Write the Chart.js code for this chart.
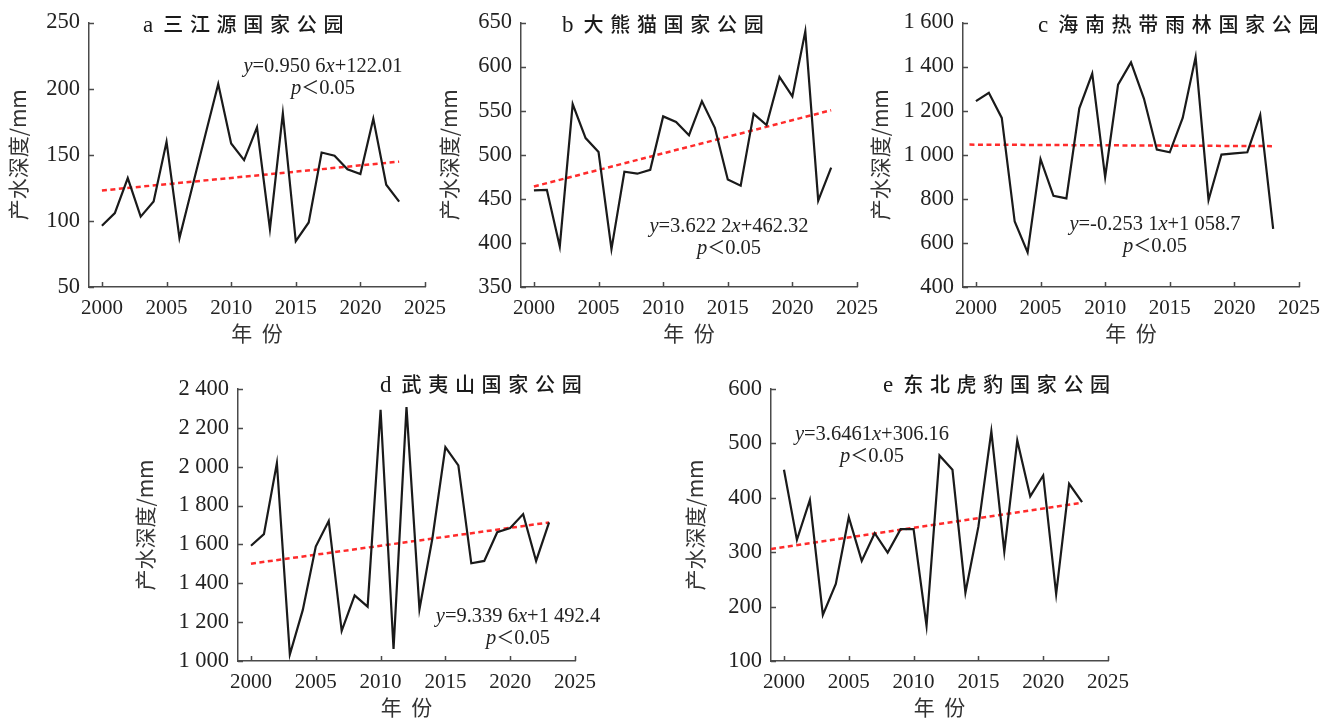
<!DOCTYPE html>
<html>
<head>
<meta charset="utf-8">
<script src="https://cdn.jsdelivr.net/npm/chart.js@4.4.1/dist/chart.umd.min.js"></script>
<style>
  html, body { margin: 0; padding: 0; background: #fff; }
  #page { position: relative; width: 1335px; height: 722px; overflow: hidden; }
  canvas { position: absolute; }
  .ttl { position: absolute; transform: translateY(-50%); white-space: nowrap; color: #1a1a1a; }
  .ttl .lt { font-family: "Liberation Serif", serif; font-size: 23px; }
  .ttl .cn { font-family: "Noto Sans CJK SC", sans-serif; font-size: 20px; font-weight: 500; letter-spacing: 6.7px; margin-left: 10px; }
  .eq { position: absolute; transform: translate(-50%, -50%); white-space: nowrap; color: #222;
        font-family: "Liberation Serif", serif; font-size: 20.5px; }
  .eq i { font-style: italic; }
  .eq .lt { font-family: "Noto Sans CJK SC", sans-serif; font-size: 18px; }
</style>
</head>
<body>
<div id="page"></div>
<script>
// years 2000-2023
const YEARS = [2000, 2001, 2002, 2003, 2004, 2005, 2006, 2007, 2008, 2009, 2010, 2011,
               2012, 2013, 2014, 2015, 2016, 2017, 2018, 2019, 2020, 2021, 2022, 2023]
const X_TICKS = [2000, 2005, 2010, 2015, 2020, 2025]

// a 三江源
const SJY = [96.3, 105.9, 132.4, 103.2, 114.6, 159.8, 87.0, 126, 165, 203.5, 158.5, 145.9,
             170.7, 93.9, 181.2, 84.6, 98.8, 151.7, 149.3, 139.0, 135.4, 177.3, 127.3, 114.6]
const SJY_TREND_X = [2000, 2023]
const SJY_TREND = [123.0, 144.8]
const SJY_TICKS = [50, 100, 150, 200, 250]
const SJY_LABELS = ['50', '100', '150', '200', '250']

// b 大熊猫
const DXM = [459.5, 460.2, 396, 557.4, 518.9, 503, 393, 480.7, 478.5, 482.9, 543.5, 537.2,
             522.2, 560.7, 530.6, 471.9, 464.9, 546.4, 533.6, 588.3, 566.2, 640, 448, 485.5]
const DXM_TREND_X = [2000, 2023]
const DXM_TREND = [464, 550.5]
const DXM_TICKS = [350, 400, 450, 500, 550, 600, 650]
const DXM_LABELS = ['350', '400', '450', '500', '550', '600', '650']

// c 海南热带雨林
const HN = [1243, 1281, 1167, 697, 557, 980, 814, 802, 1211, 1368, 899, 1318,
            1419, 1255, 1023, 1011, 1167, 1443, 795, 1001, 1006, 1011, 1181, 664]
const HN_TREND_X = [1999.5, 2023]
const HN_TREND = [1046, 1039]
const HN_TICKS = [400, 600, 800, 1000, 1200, 1400, 1600]
const HN_LABELS = ['400', '600', '800', '1 000', '1 200', '1 400', '1 600']

// d 武夷山
const WYS = [1593, 1653, 2019, 1033, 1263, 1589, 1721, 1155, 1338, 1280, 2293, 1062,
             2307, 1266, 1632, 2101, 2007, 1503, 1515, 1663, 1684, 1756, 1515, 1713]
const WYS_TREND_X = [2000, 2023]
const WYS_TREND = [1501, 1713]
const WYS_TICKS = [1000, 1200, 1400, 1600, 1800, 2000, 2200, 2400]
const WYS_LABELS = ['1 000', '1 200', '1 400', '1 600', '1 800', '2 000', '2 200', '2 400']

// e 东北虎豹
const DBHB = [451.5, 322.7, 396.3, 184.7, 241.7, 364.4, 284, 335, 299.4, 342.3, 342.3, 165,
              477.9, 451.5, 225.8, 347, 522, 301, 505.5, 402.5, 441, 223, 425.8, 392]
const DBHB_TREND_X = [1999, 2023]
const DBHB_TREND = [306, 391]
const DBHB_TICKS = [100, 200, 300, 400, 500, 600]
const DBHB_LABELS = ['100', '200', '300', '400', '500', '600']

const AXIS_COLOR = '#4a4a4a'
const TEXT_COLOR = '#222'
const XTICK_FONT = { family: '"Liberation Serif", serif', size: 21 }
const YTICK_FONT = { family: '"Liberation Serif", serif', size: 22.5 }
const TITLE_FONT = { family: '"Noto Sans CJK SC", "Liberation Serif", sans-serif', size: 21 }

// inward tick marks, drawn from the scales
const innerTicks = {
  id: 'innerTicks',
  afterDraw(chart) {
    const { ctx, chartArea, scales } = chart
    ctx.save()
    ctx.strokeStyle = AXIS_COLOR
    ctx.lineWidth = 1.5
    ctx.beginPath()
    scales.x.ticks.forEach(t => {
      const px = Math.round(scales.x.getPixelForValue(t.value)) + 0.5
      ctx.moveTo(px, chartArea.bottom)
      ctx.lineTo(px, chartArea.bottom - 5)
    })
    scales.y.ticks.forEach(t => {
      const py = Math.round(scales.y.getPixelForValue(t.value)) + 0.5
      ctx.moveTo(chartArea.left, py)
      ctx.lineTo(chartArea.left + 5, py)
    })
    ctx.stroke()
    ctx.restore()
  }
}

function makePanel({ left, top, yAxisW, plotW, padTop, xAxisH, titleOff, xTitlePad,
                     values, trendX, trendY, yTicks, yLabels }) {
  const canvas = document.createElement('canvas')
  const width = yAxisW + plotW + 30
  const height = padTop + 272 + xAxisH
  canvas.width = width
  canvas.height = height
  canvas.style.left = left + 'px'
  canvas.style.top = top + 'px'
  document.getElementById('page').appendChild(canvas)

  const lh = TITLE_FONT.size * 1.2
  new Chart(canvas, {
    type: 'line',
    data: {
      datasets: [
        {
          data: YEARS.map((y, i) => ({ x: y, y: values[i] })),
          borderColor: '#1a1a1a',
          borderWidth: 2.2,
          pointRadius: 0,
          tension: 0,
          fill: false
        },
        {
          data: trendX.map((x, i) => ({ x: x, y: trendY[i] })),
          borderColor: '#ff2b2b',
          borderWidth: 2.5,
          borderDash: [5, 3.5],
          pointRadius: 0,
          fill: false
        }
      ]
    },
    options: {
      responsive: false,
      animation: false,
      layout: { padding: { top: padTop, right: 30, left: 0, bottom: 0 } },
      plugins: { legend: { display: false }, tooltip: { enabled: false } },
      scales: {
        x: {
          type: 'linear',
          min: 1999,
          max: 2025,
          grid: { display: false, drawTicks: false },
          border: { display: true, color: AXIS_COLOR, width: 1.5 },
          afterBuildTicks: s => { s.ticks = X_TICKS.map(v => ({ value: v })) },
          afterFit: s => { s.height = xAxisH },
          ticks: {
            color: TEXT_COLOR, font: XTICK_FONT, padding: 9, maxRotation: 0, autoSkip: false,
            callback: v => String(v)
          },
          title: {
            display: true, text: '年  份', color: '#333', font: TITLE_FONT,
            padding: { top: 0, bottom: xTitlePad }
          }
        },
        y: {
          min: yTicks[0],
          max: yTicks[yTicks.length - 1],
          grid: { display: false, drawTicks: false },
          border: { display: true, color: AXIS_COLOR, width: 1.5 },
          afterBuildTicks: s => { s.ticks = yTicks.map(v => ({ value: v })) },
          afterFit: s => { s.width = yAxisW },
          ticks: {
            color: TEXT_COLOR, font: YTICK_FONT, padding: 9, autoSkip: false,
            callback: (v) => yLabels[yTicks.indexOf(v)]
          },
          title: {
            display: true, text: '产水深度/mm', color: '#333', font: TITLE_FONT,
            padding: { top: titleOff - lh / 2, bottom: 0 }
          }
        }
      }
    },
    plugins: [innerTicks]
  })
}

makePanel({ left: 0, top: 0, yAxisW: 89, plotW: 336, padTop: 15, xAxisH: 63, titleOff: 18, xTitlePad: 4,
            values: SJY, trendX: SJY_TREND_X, trendY: SJY_TREND, yTicks: SJY_TICKS, yLabels: SJY_LABELS })
makePanel({ left: 432, top: 0, yAxisW: 89, plotW: 336, padTop: 15, xAxisH: 63, titleOff: 17, xTitlePad: 4,
            values: DXM, trendX: DXM_TREND_X, trendY: DXM_TREND, yTicks: DXM_TICKS, yLabels: DXM_LABELS })
makePanel({ left: 860, top: 0, yAxisW: 103, plotW: 336, padTop: 15, xAxisH: 63, titleOff: 20, xTitlePad: 4,
            values: HN, trendX: HN_TREND_X, trendY: HN_TREND, yTicks: HN_TICKS, yLabels: HN_LABELS })
makePanel({ left: 130, top: 360, yAxisW: 108, plotW: 337, padTop: 29, xAxisH: 61, titleOff: 15, xTitlePad: 2,
            values: WYS, trendX: WYS_TREND_X, trendY: WYS_TREND, yTicks: WYS_TICKS, yLabels: WYS_LABELS })
makePanel({ left: 680, top: 360, yAxisW: 91, plotW: 337, padTop: 29, xAxisH: 61, titleOff: 15, xTitlePad: 2,
            values: DBHB, trendX: DBHB_TREND_X, trendY: DBHB_TREND, yTicks: DBHB_TICKS, yLabels: DBHB_LABELS })

// panel titles and regression notes
const TITLES = [
  { x: 143, y: 23, letter: 'a', name: '三江源国家公园' },
  { x: 562, y: 23, letter: 'b', name: '大熊猫国家公园' },
  { x: 1038, y: 23, letter: 'c', name: '海南热带雨林国家公园' },
  { x: 380, y: 383, letter: 'd', name: '武夷山国家公园' },
  { x: 883, y: 383, letter: 'e', name: '东北虎豹国家公园' }
]
const EQUATIONS = [
  { x: 323, y: 65, k: '0.950 6', b: '+122.01' },
  { x: 729, y: 225, k: '3.622 2', b: '+462.32' },
  { x: 1155, y: 223, k: '-0.253 1', b: '+1 058.7' },
  { x: 518, y: 615, k: '9.339 6', b: '+1 492.4' },
  { x: 872, y: 433, k: '3.6461', b: '+306.16' }
]

const page = document.getElementById('page')
TITLES.forEach(t => {
  const d = document.createElement('div')
  d.className = 'ttl'
  d.style.left = t.x + 'px'
  d.style.top = t.y + 'px'
  d.innerHTML = `<span class="lt">${t.letter}</span><span class="cn">${t.name}</span>`
  page.appendChild(d)
})
EQUATIONS.forEach(e => {
  const l1 = document.createElement('div')
  l1.className = 'eq'
  l1.style.left = e.x + 'px'
  l1.style.top = e.y + 'px'
  l1.innerHTML = `<i>y</i>=${e.k}<i>x</i>${e.b}`
  page.appendChild(l1)
  const l2 = document.createElement('div')
  l2.className = 'eq'
  l2.style.left = e.x + 'px'
  l2.style.top = (e.y + 21) + 'px'
  l2.innerHTML = `<i>p</i><span class="lt">＜</span>0.05`
  page.appendChild(l2)
})
</script>
</body>
</html>
